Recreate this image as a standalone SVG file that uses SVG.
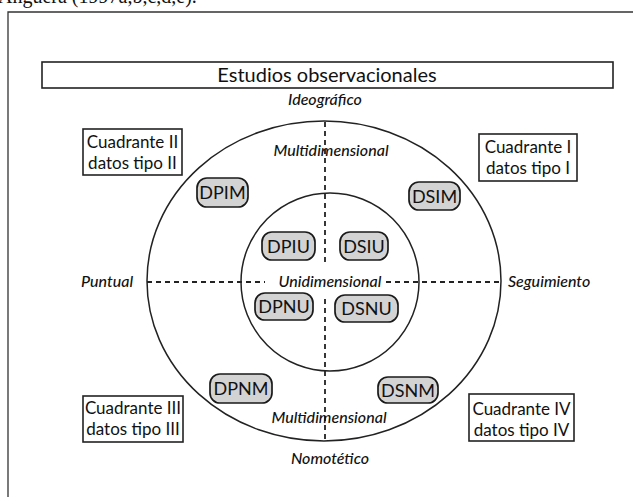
<svg xmlns="http://www.w3.org/2000/svg" width="633" height="497" viewBox="0 0 633 497">
<style>
  .frame{fill:none;stroke:#333;stroke-width:1.3}
  .box{fill:#fff;stroke:#222;stroke-width:1.6}
  .pill{fill:#d3d3d3;stroke:#1a1a1a;stroke-width:1.7}
  .ring{fill:none;stroke:#222;stroke-width:1.5}
  .dash{fill:none;stroke:#222;stroke-width:1.8;stroke-dasharray:5,4}
  .t{font-family:Lato,"Open Sans",sans-serif;fill:#111}
  .it{font-family:Lato,"Open Sans",sans-serif;font-style:italic;fill:#111;font-size:16px;font-weight:500}
  .q{font-size:17px}
  .p{font-size:18px}
</style>
<text x="-2" y="3" font-family="'Liberation Serif',serif" font-size="20" fill="#111">Anguera (1997a,b,c,d,e).</text>
<path class="frame" d="M8,497 V12 H640"/>
<g id="title">
  <rect class="box" x="42" y="62" width="571" height="26"/>
  <text class="t" x="327" y="82" font-size="20" text-anchor="middle">Estudios observacionales</text>
</g>
<g id="rings">
  <ellipse class="ring" cx="324" cy="281" rx="177" ry="160"/>
  <circle class="ring" cx="330" cy="282" r="89"/>
</g>
<g id="connectors">
  <path class="dash" d="M325,122 V263"/>
  <path class="dash" d="M325,299 V441"/>
  <path class="dash" d="M147,282 H265"/>
  <path class="dash" d="M386,282 H500"/>
</g>
<g id="axis-labels">
  <text class="it" x="325" y="105" text-anchor="middle">Ideográfico</text>
  <text class="it" x="330" y="464" text-anchor="middle">Nomotético</text>
  <text class="it" x="81" y="287">Puntual</text>
  <text class="it" x="508" y="287">Seguimiento</text>
  <text class="it" x="331" y="156" text-anchor="middle">Multidimensional</text>
  <text class="it" x="329" y="423" text-anchor="middle">Multidimensional</text>
  <text class="it" x="330" y="287" text-anchor="middle">Unidimensional</text>
</g>
<g id="q2">
  <rect class="box" x="83" y="129" width="99" height="46"/>
  <text class="t q" x="132.5" y="148" text-anchor="middle">Cuadrante II</text>
  <text class="t q" x="132.5" y="169" text-anchor="middle">datos tipo II</text>
</g>
<g id="q1">
  <rect class="box" x="479" y="134" width="98" height="47"/>
  <text class="t q" x="528" y="153" text-anchor="middle">Cuadrante I</text>
  <text class="t q" x="528" y="174" text-anchor="middle">datos tipo I</text>
</g>
<g id="q3">
  <rect class="box" x="83" y="396" width="100" height="46"/>
  <text class="t q" x="133" y="414" text-anchor="middle">Cuadrante III</text>
  <text class="t q" x="133" y="435" text-anchor="middle">datos tipo III</text>
</g>
<g id="q4">
  <rect class="box" x="469" y="394" width="105" height="47"/>
  <text class="t q" x="521.5" y="415" text-anchor="middle">Cuadrante IV</text>
  <text class="t q" x="521.5" y="436" text-anchor="middle">datos tipo IV</text>
</g>
<g id="DPIM">
  <rect class="pill" x="197" y="178" width="51" height="29" rx="10"/>
  <text class="t p" x="222.5" y="199" text-anchor="middle">DPIM</text>
</g>
<g id="DSIM">
  <rect class="pill" x="409" y="182" width="51" height="28" rx="10"/>
  <text class="t p" x="434.5" y="203" text-anchor="middle">DSIM</text>
</g>
<g id="DPIU">
  <rect class="pill" x="262" y="232" width="53" height="28" rx="10"/>
  <text class="t p" x="288.5" y="253" text-anchor="middle">DPIU</text>
</g>
<g id="DSIU">
  <rect class="pill" x="340" y="232" width="48" height="28" rx="10"/>
  <text class="t p" x="364" y="253" text-anchor="middle">DSIU</text>
</g>
<g id="DPNU">
  <rect class="pill" x="255" y="293" width="58" height="27" rx="10"/>
  <text class="t p" x="284" y="313" text-anchor="middle">DPNU</text>
</g>
<g id="DSNU">
  <rect class="pill" x="335" y="295" width="63" height="27" rx="10"/>
  <text class="t p" x="366.5" y="315" text-anchor="middle">DSNU</text>
</g>
<g id="DPNM">
  <rect class="pill" x="210" y="374" width="62" height="29" rx="10"/>
  <text class="t p" x="241" y="395" text-anchor="middle">DPNM</text>
</g>
<g id="DSNM">
  <rect class="pill" x="378" y="377" width="60" height="26" rx="10"/>
  <text class="t p" x="408" y="397" text-anchor="middle">DSNM</text>
</g>
</svg>
